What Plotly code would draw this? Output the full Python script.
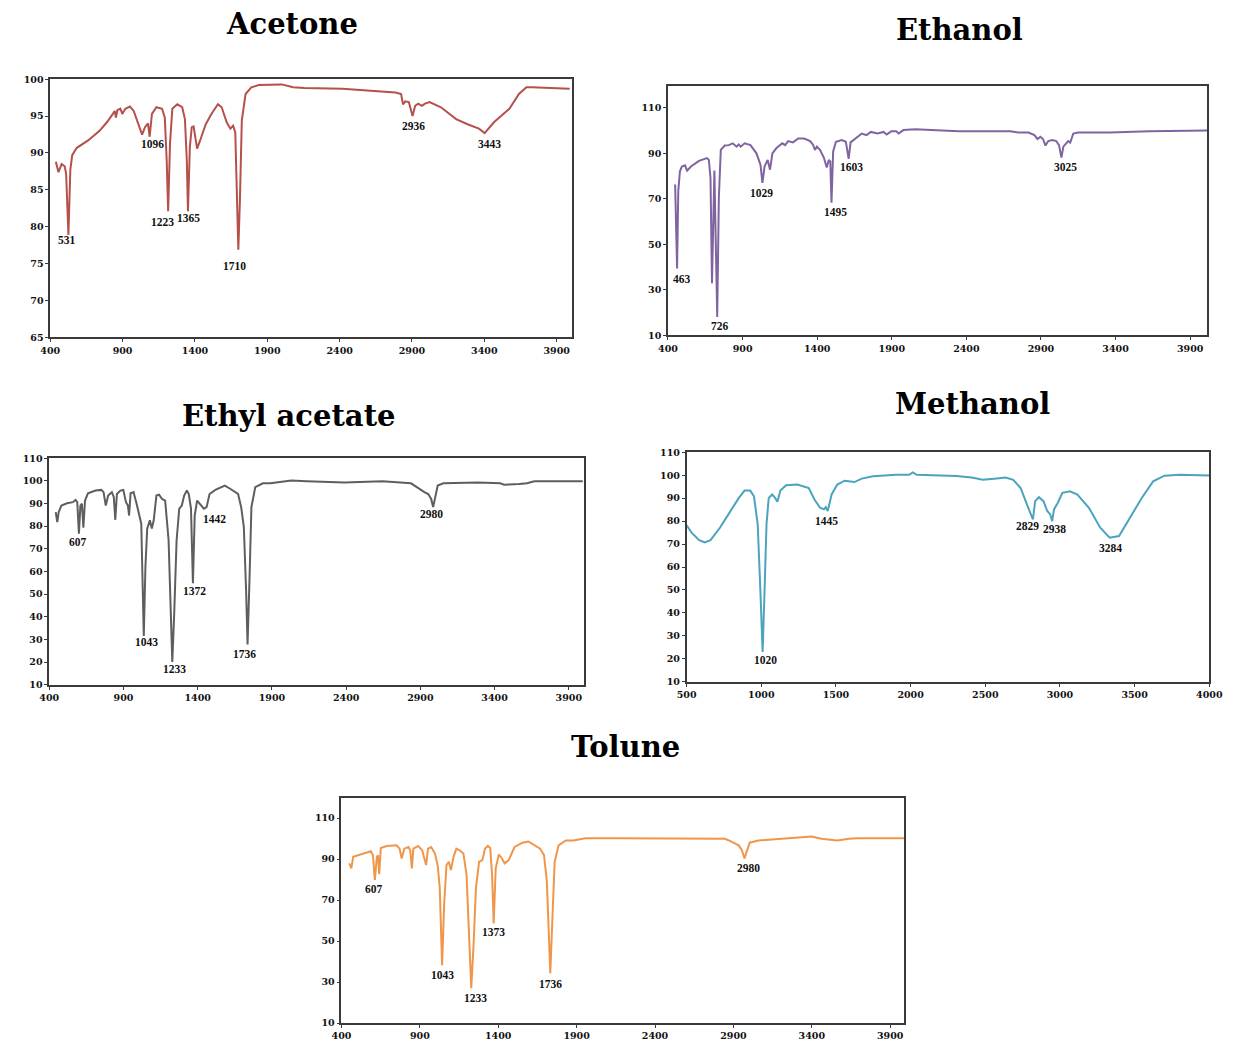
import plotly.graph_objects as go

W, H = 1237, 1043

# ---------------- data ----------------
acetone_wn = [439, 457, 479, 500, 510, 520, 526, 539, 552, 584, 662, 741, 793, 833, 846, 854, 864, 885, 898, 919, 951, 977,
              1016, 1035, 1055, 1076, 1087, 1103, 1134, 1173, 1192, 1205, 1215, 1228, 1244, 1278, 1312, 1331, 1344, 1352,
              1365, 1378, 1391, 1415, 1436, 1475, 1514, 1559, 1585, 1619, 1645, 1664, 1679, 1690, 1700, 1711, 1724, 1750,
              1790, 1842, 2000, 2078, 2157, 2419, 2681, 2786, 2825, 2838, 2854, 2878, 2904, 2922, 2943, 2969, 2990, 3022,
              3100, 3205, 3284, 3363, 3402, 3468, 3573, 3639, 3691, 3730, 3990]
acetone_t = [88.8, 87.4, 88.5, 88.2, 87.2, 82.0, 78.9, 87.7, 89.7, 90.7, 91.7, 93.0, 94.2, 95.3, 95.7, 94.8, 95.8, 96.0, 95.3,
             96.0, 96.3, 95.7, 93.5, 92.5, 93.5, 94.0, 92.2, 95.3, 96.2, 96.0, 94.8, 89.0, 82.1, 91.3, 96.0, 96.6, 96.2,
             94.6, 89.0, 82.1, 90.8, 93.5, 93.6, 90.6, 91.7, 93.9, 95.3, 96.6, 96.2, 94.2, 93.3, 93.7, 92.8, 84.5, 76.9,
             83.6, 94.4, 98.0, 98.9, 99.2, 99.3, 98.9, 98.8, 98.7, 98.4, 98.2, 98.0, 96.6, 97.0, 96.9, 95.0, 96.4, 96.7,
             96.4, 96.7, 96.9, 96.2, 94.6, 93.9, 93.3, 92.7, 94.2, 96.0, 98.0, 98.9, 98.9, 98.7]
acetone_peaks = ["531", "1096", "1223", "1365", "1710", "2936", "3443"]
acetone_peak_x = [518, 1108, 1179, 1357, 1677, 2912, 3436]
acetone_peak_y = [78.2, 91.2, 80.6, 81.2, 74.7, 93.6, 91.2]

ethanol_wn = [448, 461, 469, 480, 493, 514, 528, 554, 608, 661, 674, 685, 695, 706, 711, 730, 741, 754, 781, 807, 834, 860,
              874, 887, 914, 953, 993, 1020, 1033, 1047, 1068, 1084, 1100, 1126, 1166, 1185, 1206, 1238, 1273, 1313, 1353,
              1374, 1385, 1398, 1419, 1446, 1464, 1478, 1488, 1496, 1507, 1526, 1565, 1592, 1611, 1624, 1659, 1699, 1731,
              1760, 1805, 1845, 1866, 1898, 1930, 1946, 1978, 2058, 2164, 2350, 2696, 2750, 2816, 2856, 2877, 2896, 2914,
              2930, 2949, 2976, 3002, 3021, 3037, 3050, 3069, 3082, 3096, 3117, 3149, 3362, 3628, 4014]
ethanol_t = [76.3, 39.4, 73.4, 82.1, 84.2, 84.7, 82.4, 84.2, 86.7, 87.9, 87.1, 79.2, 32.9, 82.1, 82.4, 18.1, 70.5, 91.5, 93.4,
             93.6, 94.4, 92.9, 93.9, 92.9, 94.4, 93.6, 90.0, 85.0, 77.0, 84.2, 87.1, 82.8, 90.0, 92.2, 94.4, 93.6, 95.4,
             94.8, 96.5, 96.5, 95.4, 93.6, 91.5, 92.9, 91.5, 87.9, 83.8, 87.1, 86.4, 68.3, 90.8, 95.1, 95.8, 95.1, 87.6,
             94.8, 96.5, 98.7, 98.0, 99.4, 98.7, 99.4, 98.3, 99.7, 99.7, 98.7, 100.2, 100.6, 100.2, 99.7, 99.7, 99.1, 99.1,
             98.0, 96.3, 97.3, 96.3, 93.4, 95.4, 95.8, 95.4, 93.6, 88.1, 92.9, 94.4, 95.4, 94.7, 98.7, 99.1, 99.1, 99.7,
             100.0]
ethanol_peaks = ["463", "726", "1029", "1495", "1603", "3025"]
ethanol_peak_x = [493, 749, 1028, 1526, 1632, 3064]
ethanol_peak_y = [35.0, 14.3, 72.7, 64.4, 83.8, 83.8]

ethyl_wn = [444, 454, 464, 482, 520, 559, 577, 589, 600, 610, 620, 630, 641, 661, 712, 751, 766, 781, 797, 822, 835, 845, 856,
            879, 899, 917, 930, 938, 948, 968, 986, 1007, 1020, 1037, 1048, 1060, 1078, 1091, 1104, 1122, 1140, 1160, 1181,
            1204, 1217, 1229, 1242, 1258, 1276, 1293, 1309, 1327, 1340, 1355, 1368, 1380, 1396, 1416, 1442, 1460, 1480,
            1519, 1583, 1621, 1672, 1693, 1711, 1726, 1736, 1749, 1762, 1788, 1839, 1890, 1928, 2031, 2133, 2389, 2645,
            2837, 2876, 2901, 2927, 2953, 2973, 2986, 2999, 3017, 3055, 3285, 3439, 3464, 3566, 3618, 3669, 3994]
ethyl_t = [86.2, 81.8, 86.2, 89.1, 90.1, 90.6, 91.6, 90.6, 76.7, 89.1, 89.9, 79.3, 91.3, 94.5, 95.7, 96.0, 95.0, 89.1, 93.5,
           95.0, 92.8, 82.8, 94.2, 95.7, 96.0, 90.6, 89.1, 84.7, 94.5, 95.0, 90.6, 84.7, 81.1, 31.5, 62.1, 78.9, 82.6, 78.9,
           82.6, 93.5, 93.9, 92.0, 91.3, 73.8, 47.5, 20.1, 41.7, 73.8, 87.7, 89.1, 93.5, 95.7, 94.2, 87.7, 54.8, 84.7, 91.3,
           89.9, 87.7, 88.4, 94.2, 96.0, 97.9, 96.4, 94.2, 88.4, 79.6, 51.9, 27.8, 56.3, 88.4, 97.2, 98.9, 98.9, 99.3,
           100.1, 99.8, 99.3, 99.8, 98.9, 97.2, 96.0, 95.0, 94.2, 92.0, 88.4, 92.0, 97.9, 98.9, 99.3, 98.9, 98.3, 98.6,
           98.9, 99.8, 99.8]
ethyl_peaks = ["607", "1043", "1233", "1372", "1442", "1736", "2980"]
ethyl_peak_x = [597, 1058, 1245, 1378, 1514, 1718, 2978]
ethyl_peak_y = [73.1, 28.8, 16.9, 51.2, 83.0, 23.7, 85.5]

methanol_wn = [500, 533, 584, 622, 660, 723, 786, 850, 888, 926, 951, 976, 994, 1009, 1022, 1035, 1050, 1073, 1090, 1108,
               1128, 1166, 1242, 1318, 1356, 1394, 1420, 1432, 1445, 1471, 1509, 1559, 1623, 1673, 1749, 1901, 1990, 2015,
               2041, 2155, 2307, 2408, 2484, 2560, 2636, 2687, 2737, 2788, 2819, 2834, 2859, 2890, 2915, 2935, 2948, 2960,
               2986, 3016, 3067, 3117, 3194, 3270, 3333, 3396, 3472, 3548, 3624, 3700, 3802, 4000]
methanol_t = [78.2, 75.0, 71.7, 70.7, 71.7, 77.1, 83.6, 90.1, 93.3, 93.3, 90.8, 78.6, 49.8, 23.0, 49.8, 78.6, 90.1, 91.6,
              90.4, 88.4, 93.3, 95.6, 95.9, 94.4, 89.4, 85.8, 85.1, 86.1, 84.4, 91.6, 95.9, 97.6, 97.0, 98.5, 99.5, 100.2,
              100.2, 101.2, 100.2, 99.9, 99.6, 99.0, 98.0, 98.5, 99.0, 98.0, 94.4, 85.8, 80.7, 88.7, 90.4, 88.7, 84.4, 82.9,
              80.0, 85.1, 88.0, 92.3, 93.0, 91.6, 85.8, 77.1, 72.8, 73.5, 81.5, 90.1, 97.3, 99.8, 100.2, 99.9]
methanol_peaks = ["1020", "1445", "2829", "2938", "3284"]
methanol_peak_x = [1027, 1438, 2781, 2966, 3341]
methanol_peak_y = [19.5, 80.0, 77.9, 76.4, 68.5]

tolune_wn = [450, 463, 475, 525, 588, 601, 613, 626, 633, 641, 651, 689, 751, 771, 784, 801, 827, 839, 849, 859, 889, 915,
             927, 940, 952, 972, 997, 1015, 1027, 1042, 1055, 1070, 1085, 1098, 1115, 1133, 1153, 1178, 1198, 1213, 1228,
             1243, 1258, 1278, 1299, 1316, 1334, 1349, 1361, 1371, 1384, 1404, 1424, 1441, 1467, 1504, 1555, 1592, 1630,
             1667, 1692, 1710, 1722, 1732, 1745, 1760, 1785, 1831, 1880, 1956, 2156, 2533, 2846, 2884, 2909, 2934, 2954,
             2971, 2984, 3004, 3059, 3285, 3398, 3461, 3562, 3637, 3687, 3988]
tolune_t = [87.9, 85.5, 91.1, 92.2, 93.8, 91.9, 79.9, 91.1, 91.9, 82.6, 95.4, 96.4, 96.7, 95.1, 90.3, 95.1, 95.9, 94.3, 85.5,
            95.1, 96.4, 94.3, 91.1, 87.1, 95.1, 95.9, 92.7, 86.3, 75.9, 38.3, 67.9, 87.1, 88.7, 84.7, 91.1, 95.1, 94.3,
            92.7, 82.3, 55.1, 27.1, 48.7, 75.9, 88.7, 89.5, 95.1, 96.4, 95.4, 82.3, 58.6, 85.5, 92.2, 90.3, 87.9, 89.5,
            95.9, 98.0, 98.6, 96.7, 95.1, 91.9, 79.1, 55.1, 34.3, 59.9, 88.7, 96.7, 99.1, 99.1, 100.2, 100.2, 99.9, 99.9,
            98.6, 97.5, 96.7, 94.3, 90.3, 93.5, 98.0, 99.1, 100.2, 101.0, 99.9, 99.1, 99.9, 100.2, 100.2]
tolune_peaks = ["607", "1043", "1233", "1373", "1736", "2980"]
tolune_peak_x = [608, 1045, 1253, 1371, 1735, 2997]
tolune_peak_y = [75.6, 33.5, 22.3, 54.3, 29.2, 85.5]

titles = ["Acetone", "Ethanol", "Ethyl acetate", "Methanol", "Tolune"]
x_ticks_a = [400, 900, 1400, 1900, 2400, 2900, 3400, 3900]
x_ticks_m = [500, 1000, 1500, 2000, 2500, 3000, 3500, 4000]

# ---------------- layout ----------------
panels = [
    dict(wn=acetone_wn, t=acetone_t, pk=acetone_peaks, px=acetone_peak_x, py=acetone_peak_y, color="#B5504B",
         box=(41, 74, 573, 335), xr=[400, 4005], yr=[65, 100], yt=list(range(65, 101, 5)), xt=x_ticks_a,
         title=titles[0], tpos=(288, 18)),
    dict(wn=ethanol_wn, t=ethanol_t, pk=ethanol_peaks, px=ethanol_peak_x, py=ethanol_peak_y, color="#8064A2",
         box=(671, 81, 1221, 333), xr=[400, 4015], yr=[10, 119.5], yt=[10, 30, 50, 70, 90, 110], xt=x_ticks_a,
         title=titles[1], tpos=(968, 24)),
    dict(wn=ethyl_wn, t=ethyl_t, pk=ethyl_peaks, px=ethyl_peak_x, py=ethyl_peak_y, color="#5E5E5E",
         box=(40, 457, 585, 686), xr=[400, 4000], yr=[10, 110], yt=list(range(10, 111, 10)), xt=x_ticks_a,
         title=titles[2], tpos=(284, 414)),
    dict(wn=methanol_wn, t=methanol_t, pk=methanol_peaks, px=methanol_peak_x, py=methanol_peak_y, color="#4BA3BD",
         box=(690, 451, 1223, 683), xr=[500, 4000], yr=[10, 110], yt=list(range(10, 111, 10)), xt=x_ticks_m,
         title=titles[3], tpos=(982, 402)),
    dict(wn=tolune_wn, t=tolune_t, pk=tolune_peaks, px=tolune_peak_x, py=tolune_peak_y, color="#F0964A",
         box=(338, 800, 912, 1028), xr=[400, 3990], yr=[10, 120], yt=[10, 30, 50, 70, 90, 110], xt=x_ticks_a,
         title=titles[4], tpos=(628, 749)),
]

fig = go.Figure()
annotations = []
tick_font = dict(family="DejaVu Serif", size=9.5, color="#111111", weight="bold")
peak_font = dict(family="Liberation Serif", size=11.5, color="#111111", weight="bold")
title_font = dict(family="DejaVu Serif", size=29, color="#000000", weight="bold")

for i, p in enumerate(panels, start=1):
    xa = "x" if i == 1 else f"x{i}"
    ya = "y" if i == 1 else f"y{i}"
    fig.add_trace(go.Scatter(x=p["wn"], y=p["t"], mode="lines", xaxis=xa, yaxis=ya,
                             line=dict(color=p["color"], width=2), showlegend=False, hoverinfo="x+y"))
    l, t, r, b = p["box"]
    xkey = "xaxis" if i == 1 else f"xaxis{i}"
    ykey = "yaxis" if i == 1 else f"yaxis{i}"
    common = dict(showgrid=False, zeroline=False, showline=True, linecolor="#3a3a3a", linewidth=1.6,
                  mirror=True, ticks="outside", ticklen=3, tickcolor="#3a3a3a", tickfont=tick_font)
    fig.update_layout(**{
        xkey: dict(domain=[l / W, r / W], range=p["xr"], tickvals=p["xt"], anchor=ya, **common),
        ykey: dict(domain=[1 - b / H, 1 - t / H], range=p["yr"], tickvals=p["yt"], anchor=xa, **common),
    })
    for txt, x, y in zip(p["pk"], p["px"], p["py"]):
        annotations.append(dict(x=x, y=y, xref=xa, yref=ya, text=txt, showarrow=False,
                                font=peak_font, xanchor="center", yanchor="middle"))
    tx, ty = p["tpos"]
    annotations.append(dict(x=tx / W, y=1 - ty / H, xref="paper", yref="paper", text=p["title"],
                            showarrow=False, font=title_font, xanchor="center", yanchor="middle"))

fig.update_layout(width=W, height=H, margin=dict(l=0, r=0, t=0, b=0),
                  paper_bgcolor="white", plot_bgcolor="white", annotations=annotations)

fig.write_html("out.html", config={"displayModeBar": False},
               post_script="document.body.style.margin='0';document.body.style.overflow='hidden';")
